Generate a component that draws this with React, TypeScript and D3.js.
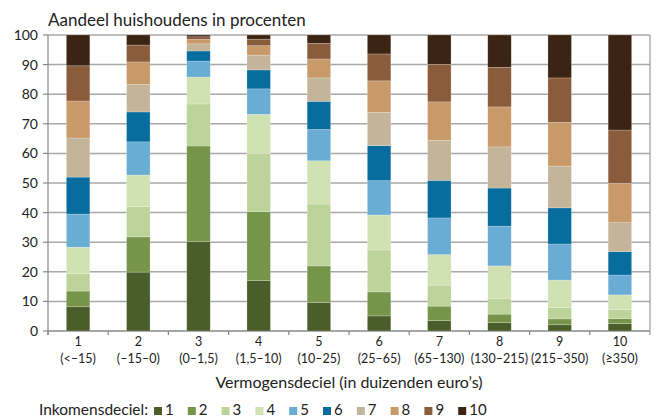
import React from 'react'
import * as d3 from 'd3'

const deciles = ['1','2','3','4','5','6','7','8','9','10']
const ranges = ['(<–15)','(–15–0)','(0–1,5)','(1,5–10)','(10–25)','(25–65)','(65–130)','(130–215)','(215–350)','(≥350)']
const seriesNames = ['1','2','3','4','5','6','7','8','9','10']
const colors = ['#4a5e2c','#76944a','#bcd49a','#d0e2b2','#69acd4','#076c9e','#c4b59a','#c89a6a','#8a5c3c','#3c2414']

// share per inkomensdeciel (rows) for each vermogensdeciel (columns)
const s1 = [8.2, 19.9, 30.2, 17.0, 9.6, 5.1, 3.5, 2.8, 2.1, 2.5]
const s2 = [5.3, 11.9, 32.3, 23.3, 12.4, 8.1, 4.9, 2.9, 2.0, 1.7]
const s3 = [5.8, 10.2, 14.2, 19.6, 20.9, 14.2, 7.1, 5.2, 3.8, 3.0]
const s4 = [9.0, 10.7, 9.1, 13.3, 14.6, 11.8, 10.3, 11.1, 9.3, 5.0]
const s5 = [11.2, 11.2, 5.4, 8.6, 10.6, 11.6, 12.4, 13.4, 12.2, 6.7]
const s6 = [12.5, 10.1, 3.4, 6.4, 9.5, 11.8, 12.7, 12.9, 12.2, 7.9]
const s7 = [13.2, 9.3, 2.4, 5.0, 7.9, 11.3, 13.5, 13.9, 14.1, 9.8]
const s8 = [12.5, 7.6, 1.5, 3.2, 6.4, 10.6, 13.0, 13.5, 14.8, 13.3]
const s9 = [11.9, 5.7, 0.9, 2.2, 5.3, 9.1, 12.7, 13.4, 15.0, 18.0]
const s10 = [10.4, 3.4, 0.6, 1.4, 2.8, 6.4, 9.9, 10.9, 14.5, 32.1]
const series = [s1, s2, s3, s4, s5, s6, s7, s8, s9, s10]
const yTicks = [0,10,20,30,40,50,60,70,80,90,100]

const font = 'Lato, "Open Sans", sans-serif'

export default function App() {
  const W = 657, H = 417
  const left = 48, right = 650, top = 35, bottom = 331
  const x = d3.scaleBand().domain(deciles).range([left, right]).paddingInner(0.61).paddingOuter(0.305)
  const y = d3.scaleLinear().domain([0, 100]).range([bottom, top])
  const step = (right - left) / deciles.length

  const table = deciles.map((d, i) => {
    const row: any = { cat: d }
    seriesNames.forEach((s, j) => { row[s] = series[j][i] })
    return row
  })
  const stack = d3.stack().keys(seriesNames)(table)

  return (
    <svg width={W} height={H} style={{ position: 'absolute', left: 0, top: 0, fontFamily: font }}>
      <text x={left} y={26} fontSize={17} fill="#222">Aandeel huishoudens in procenten</text>
      {yTicks.map(t => (
        <g key={t}>
          <line x1={left} x2={right} y1={y(t)} y2={y(t)} stroke={t === 0 ? '#888' : '#a8a8a8'} strokeWidth={1.5} />
          <line x1={left - 5} x2={left} y1={y(t)} y2={y(t)} stroke="#888" strokeWidth={1.2} />
          <text x={38} y={y(t)} dy="0.35em" textAnchor="end" fontSize={14} fill="#222">{t}</text>
        </g>
      ))}
      <line x1={left} x2={left} y1={top} y2={bottom + 4} stroke="#888" strokeWidth={1.2} />
      <line x1={right} x2={right} y1={top} y2={bottom + 4} stroke="#999" strokeWidth={1.2} />
      {deciles.map((d, i) => (
        <line key={d} x1={left + step * i} x2={left + step * i} y1={bottom} y2={bottom + 4} stroke="#888" strokeWidth={1.2} />
      ))}
      {stack.map((layer, j) => (
        <g key={j} fill={colors[j]}>
          {layer.map((seg, i) => (
            <rect key={i} x={x(deciles[i])} y={y(seg[1])} width={x.bandwidth()} height={y(seg[0]) - y(seg[1])}
              stroke="#ffffff" strokeOpacity={0.35} strokeWidth={0.6} />
          ))}
        </g>
      ))}
      {deciles.map((d, i) => (
        <g key={d} fontSize={12.5} fill="#222" textAnchor="middle">
          <text x={x(d)! + x.bandwidth() / 2} y={346}>{d}</text>
          <text x={x(d)! + x.bandwidth() / 2} y={363}>{ranges[i]}</text>
        </g>
      ))}
      <text x={(left + right) / 2} y={388} textAnchor="middle" fontSize={16} fill="#222">Vermogensdeciel (in duizenden euro’s)</text>
      <text x={39} y={415} fontSize={15.5} fill="#222">Inkomensdeciel:</text>
      {seriesNames.map((s, j) => (
        <g key={s}>
          <rect x={154 + j * 33.8} y={407} width={8} height={8} fill={colors[j]} />
          <text x={165 + j * 33.8} y={415} fontSize={15} fill="#222">{s}</text>
        </g>
      ))}
    </svg>
  )
}
